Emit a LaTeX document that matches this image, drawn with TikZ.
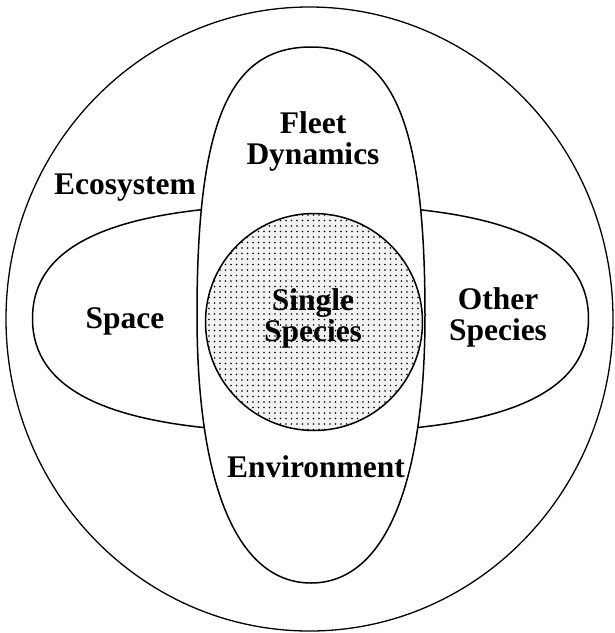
\documentclass[tikz,border=0pt]{standalone}
\usepackage{fontspec}
\setmainfont{Liberation Serif}
\usetikzlibrary{patterns.meta}

\begin{document}
\begin{tikzpicture}[x=1pt, y=-1pt,
        region/.style={draw=black, line width=1.5pt, fill=white},
        core/.style={draw=black, line width=1.5pt, preaction={fill=gray!10}, pattern={Dots[distance=5.5pt, radius=0.8pt]}},
        term/.style={font=\fontsize{31.5}{31}\selectfont\bfseries, align=center, inner sep=0pt}]

    \useasboundingbox (0,0) rectangle (615,633);

    % outer ring
    \draw[line width=1.3pt] (309.5,319) ellipse [x radius=303.5, y radius=312];

    % flat oval (left/right)
    \draw[region] (32.5,318.5) .. controls (32.5,241) and (121.5,204.5) .. (310.5,204.5)
        .. controls (499.5,204.5) and (588.5,241) .. (588.5,318.5)
        .. controls (588.5,396) and (499.5,432.5) .. (310.5,432.5)
        .. controls (121.5,432.5) and (32.5,396) .. cycle;

    % tall oval (top/bottom), over the flat one
    \draw[region] (311,47) .. controls (393,47) and (425,122) .. (425,315)
        .. controls (425,487) and (384,583) .. (311,583)
        .. controls (238,583) and (197,487) .. (197,315)
        .. controls (197,122) and (229,47) .. cycle;

    % shaded middle
    \draw[core] (314,322) circle [radius=108.5];

    \node (ecosystem) [term] at (125,188) {Ecosystem};
    \node (fleet) [term] at (313,141) {Fleet\\Dynamics};
    \node (space) [term] at (125,321) {Space};
    \node (single) [term] at (313,318) {Single\\Species};
    \node (other) [term] at (498,317) {Other\\Species};
    \node (environment) [term] at (316,467) {Environment};
\end{tikzpicture}
\end{document}
